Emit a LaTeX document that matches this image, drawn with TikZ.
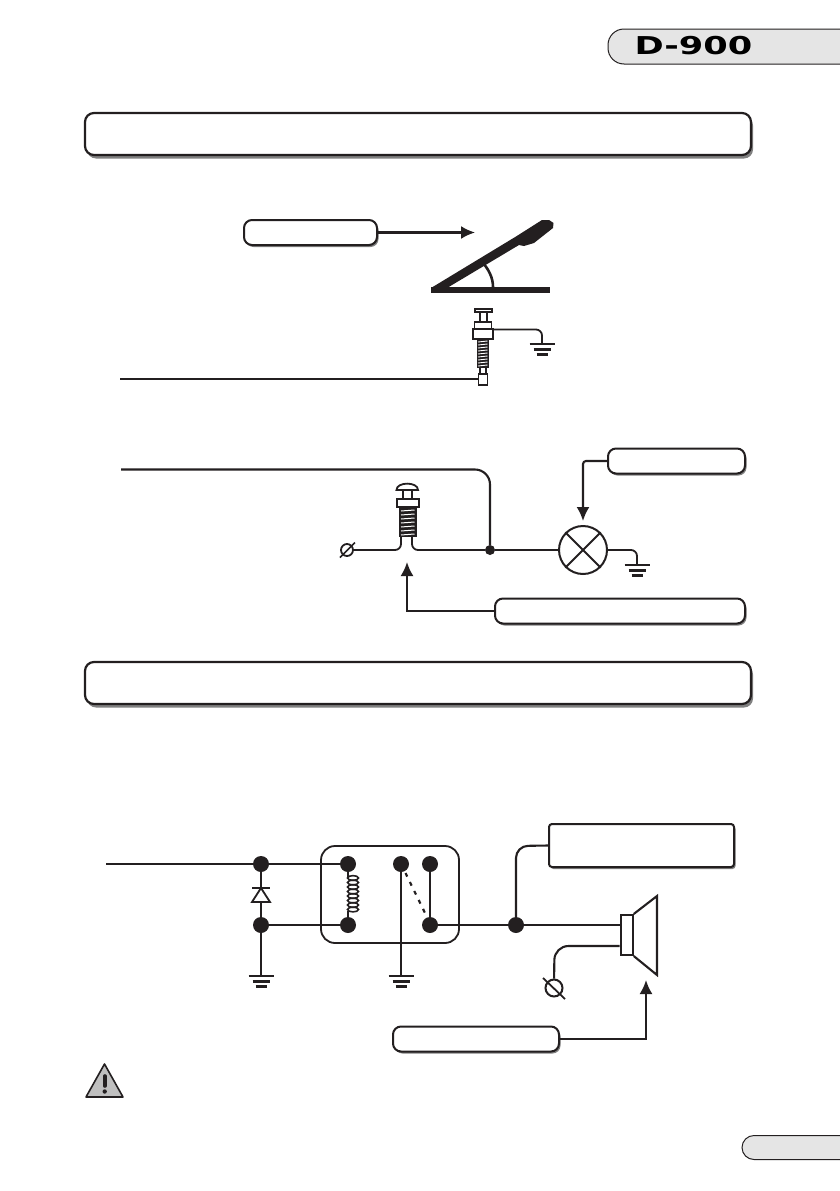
\documentclass[tikz,border=0pt]{standalone}
\usepackage{graphicx}
\usepackage{fontspec}
\setmainfont{DejaVu Sans}
\usetikzlibrary{arrows.meta,shadows}
\definecolor{inkk}{HTML}{231F20}
\tikzset{
  wire/.style={draw=inkk,line width=2.1pt},
  soft/.style={wire,rounded corners=6pt},
  tipped/.style={wire,-{Latex[length=14pt,width=13pt]}},
  headbox/.style={draw=inkk,line width=2.2pt,fill=white,rounded corners=9pt,inner sep=0pt,
    minimum width=666pt,minimum height=42pt,
    general shadow={shadow xshift=2pt,shadow yshift=-3.5pt,fill=black!50}},
  tagbox/.style={draw=inkk,line width=2pt,fill=white,rounded corners=8pt,inner sep=0pt,
    minimum height=25pt,
    general shadow={shadow xshift=1.5pt,shadow yshift=-2pt,fill=black!50}},
  junction/.style={circle,fill=inkk,inner sep=0pt,minimum size=#1},
  gnd/.pic={
    \draw[wire,line width=2.5pt] (-12.5,0) -- (12.5,0);
    \draw[wire,line width=2.5pt] (-8.5,5.5) -- (8.5,5.5);
    \draw[wire,line width=2.5pt] (-5.5,10.5) -- (5.5,10.5);
  }
}
\begin{document}
\begin{tikzpicture}[x=1pt,y=-1pt]
    \useasboundingbox (0,0) rectangle (839,1191);
    % page tabs
    \draw[draw=inkk,line width=1pt,fill=black!10,rounded corners=16pt] (850,29) -- (608,29) -- (608,64) -- (850,64);
    \node (model) at (693.5,46) {\scalebox{1.43}[1]{\fontsize{24.6}{25}\bfseries D-900}};
    \draw[draw=inkk,line width=1pt,fill=black!10,rounded corners=12pt] (850,1135.5) -- (742,1135.5) -- (742,1159.5) -- (850,1159.5);
    % section headers
    \node[headbox] (headA) at (418,134) {};
    \node[headbox] (headB) at (418,683) {};

    % pedal
    \node[tagbox,minimum width=133pt] (pedaltag) at (310.5,232.5) {};
    \coordinate (pedaltip) at (475,232.5);
    \draw[tipped] (pedaltag.east) -- (pedaltip);
    \fill[inkk] (431,287) rectangle (550,293);
    \fill[inkk,line join=round] (431,288) -- (516,236.5) -- (542,220) -- (549,220) -- (553.5,223) -- (553,228) -- (534,243) -- (524,246) -- (519,245) -- (447,288) -- cycle;
    \draw[wire,line width=2.6pt] (483,263) .. controls (489,270) and (493,278) .. (493,287);

    % plunger under the pedal
    \draw[wire,line width=1.6pt,fill=white] (475,309) rectangle (492,312);
    \draw[wire,line width=1.6pt] (480,312) -- (480,322) (487,312) -- (487,322);
    \draw[wire,line width=1.6pt,fill=white] (474.5,322) rectangle (491.5,329);
    \node[draw=inkk,line width=1.6pt,fill=white,inner sep=0pt,minimum width=20pt,minimum height=10pt] (nutA) at (483,334) {};
    \fill[inkk] (476.5,339) rectangle (489,368);
    \foreach \y in {341,344,...,365} {\draw[white,line width=0.9pt] (478,\y+1) -- (487.5,\y);}
    \draw[wire,line width=1.6pt] (480,368) -- (480,374) (486,368) -- (486,374);
    \node[draw=inkk,line width=1.6pt,fill=white,inner sep=0pt,minimum width=9pt,minimum height=11pt] (plugA) at (483,379.5) {};
    \coordinate (earthA) at (542,344);
    \draw[soft,line width=1.8pt] (nutA.east |- 0,329.5) -- (542,329.5) -- (earthA);
    \pic at (542,344) {gnd};
    \coordinate (feedA) at (120,379);
    \draw[wire] (feedA) -- (plugA.west |- feedA);

    % lamp circuit
    \node[tagbox,minimum width=137pt] (lamptag) at (676.5,461) {};
    \node[tagbox,minimum width=250pt] (switchtag) at (620,611) {};
    \node[junction=10pt] (nodeL) at (490,550) {};
    \node[circle,draw=inkk,line width=2pt,inner sep=0pt,minimum size=48pt] (lamp) at (583,550) {};
    \draw[wire,line width=1.8pt] (lamp.north west) -- (lamp.south east) (lamp.north east) -- (lamp.south west);
    \coordinate (feedB) at (121,469.5);
    \coordinate (lamptip) at (583,521);
    \coordinate (switchtip) at (407,562);
    \draw[wire,rounded corners=15pt] (feedB) -- (490,469.5) -- (nodeL);
    \draw[tipped,rounded corners=3pt] (lamptag.west) -- (583,461) -- (lamptip);
    \draw[tipped] (switchtag.west) -- (407,611) -- (switchtip);

    % push switch
    \fill[white,draw=inkk,line width=1.8pt] (396.5,490) .. controls (396.5,481.5) and (418,481.5) .. (418,490) -- cycle;
    \draw[wire,line width=1.8pt] (403,490) -- (403,499) (412,490) -- (412,499);
    \draw[wire,line width=1.8pt,fill=white] (397,499) rectangle (419,507);
    \fill[inkk] (398.5,507) rectangle (416.5,536.5);
    \foreach \y in {510,514,...,534} {\draw[white,line width=1pt] (401,\y+1) -- (414.5,\y);}
    \coordinate (earthS) at (347,550);
    \draw[soft,line width=1.8pt] (401,536) -- (401,550) -- (353,550);
    \draw[soft,line width=1.8pt] (412,536) -- (412,550) -- (nodeL);
    \node[circle,draw=inkk,line width=1.8pt,inner sep=0pt,minimum size=12pt] (massS) at (earthS) {};
    \draw[wire,line width=1.5pt] (340,557.5) -- (355,542.5);
    \draw[wire,line width=1.8pt] (nodeL) -- (lamp);
    \draw[soft,line width=1.8pt] (lamp) ++(24,0) -- (637,550) -- (637,564);
    \pic at (637,565) {gnd};

    % relay circuit
    \node[draw=inkk,line width=1.8pt,rounded corners=14pt,inner sep=0pt,minimum width=138pt,minimum height=97pt] (relay) at (390,894.5) {};
    \node[junction=16pt] (inA) at (261,864) {};
    \node[junction=16pt] (inB) at (261,925) {};
    \node[junction=16pt] (coilA) at (348,864) {};
    \node[junction=16pt] (coilB) at (348,925) {};
    \node[junction=16pt] (contA) at (401,864) {};
    \node[junction=16pt] (contB) at (430,864) {};
    \node[junction=16pt] (contC) at (430,925) {};
    \node[junction=16pt] (nodeS) at (516,925) {};
    \coordinate (feedC) at (106,864);
    \coordinate (earthC) at (261,976);
    \coordinate (earthD) at (401,976);
    \draw[wire] (feedC) -- (inA) -- (coilA);
    \draw[wire] (inB) -- (coilB);
    \draw[wire] (inA) -- (inB) (inB) -- (earthC);
    \draw[wire] (contA) -- (earthD);
    \draw[wire] (contB) -- (contC);
    \draw[wire,dash pattern=on 4pt off 6pt,line width=2.2pt] (contA) ++(4.5,9) -- (425,913);
    \pic at (earthC) {gnd};
    \pic at (earthD) {gnd};

    % diode
    \draw[wire,line width=1.8pt,fill=white] (261,888) -- (270,902) -- (252,902) -- cycle;
    \draw[wire] (252,888) -- (270,888);

    % coil
    \draw[wire] (coilA) -- (348,878) (348,911) -- (coilB);
    \foreach \y in {878,882.5,...,912} {\draw[draw=inkk,line width=1.6pt] (353,\y) ellipse[x radius=5.5,y radius=2.4];}

    % speaker
    \node[tagbox,rounded corners=3pt,minimum width=185pt,minimum height=43pt] (ampbox) at (641.5,845.5) {};
    \node[tagbox,minimum width=166pt] (horntag) at (476,1039) {};
    \node[draw=inkk,line width=2pt,fill=white,inner sep=0pt,minimum width=12pt,minimum height=40pt] (voice) at (626.7,935) {};
    \draw[wire,line join=miter] (voice.north east) -- (657,896) -- (657,975) -- (voice.south east);
    \coordinate (hornin) at (voice.west |- 0,946);
    \coordinate (horntip) at (646,980);
    \node[circle,draw=inkk,line width=2pt,inner sep=0pt,minimum size=17pt] (massH) at (554,988) {};
    \draw[wire] (contC) -- (nodeS) -- (nodeS -| voice.west);
    \draw[soft,rounded corners=12pt] (ampbox.west) -- (516,846) -- (nodeS);
    \draw[soft,rounded corners=14pt] (hornin) -- (554.5,946) -- (massH);
    \draw[wire,line width=1.8pt] (543,978) -- (565,999);
    \draw[tipped] (horntag.east) -- (646,1039) -- (horntip);

    % warning sign
    \draw[draw=inkk,line width=1.6pt,fill=black!25,line join=round] (104.5,1064) -- (123,1097) -- (86,1097) -- cycle;
    \draw[inkk,line width=3.6pt,line cap=round] (104.7,1076) -- (104.7,1086);
    \fill[inkk] (104.7,1091.5) circle (2.2);
\end{tikzpicture}
\end{document}
